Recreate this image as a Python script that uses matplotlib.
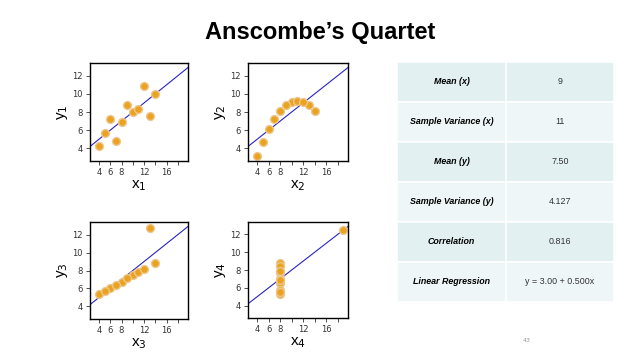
import numpy as np
import matplotlib.pyplot as plt
from matplotlib.patches import Rectangle

# Datos del cuarteto de Anscombe
x123 = [10, 8, 13, 9, 11, 14, 6, 4, 12, 7, 5]
x4 = [8, 8, 8, 8, 8, 8, 8, 19, 8, 8, 8]
y1 = [8.04, 6.95, 7.58, 8.81, 8.33, 9.96, 7.24, 4.26, 10.84, 4.82, 5.68]
y2 = [9.14, 8.14, 8.74, 8.77, 9.26, 8.10, 6.13, 3.10, 9.13, 7.26, 4.74]
y3 = [7.46, 6.77, 12.74, 7.11, 7.81, 8.84, 6.08, 5.39, 8.15, 6.42, 5.73]
y4 = [6.58, 5.76, 7.71, 8.84, 8.47, 7.04, 5.25, 12.50, 5.56, 7.91, 6.89]

intercepto = 3.0
pendiente = 0.5

etiquetas = ["Mean (x)", "Sample Variance (x)", "Mean (y)",
             "Sample Variance (y)", "Correlation", "Linear Regression"]
valores = ["9", "11", "7.50", "4.127", "0.816", "y = 3.00 + 0.500x"]

conjuntos = [(x123, y1), (x123, y2), (x123, y3), (x4, y4)]

W, H = 638, 359
fig = plt.figure(figsize=(W / 100, H / 100), dpi=100)
fig.text(320 / W, 1 - 33 / H, "Anscombe\u2019s Quartet", ha="center", va="center",
         fontsize=17, fontweight="bold", family="Liberation Sans")

# posiciones de los paneles en pixeles (izq, arriba, der, abajo)
cajas = [(90, 63, 188, 161), (248, 63, 348, 161),
         (90, 222, 188, 319), (248, 222, 348, 318)]

for i, ((xs, ys), (l, t, r, b)) in enumerate(zip(conjuntos, cajas)):
    ax = fig.add_axes([l / W, 1 - b / H, (r - l) / W, (b - t) / H])
    xl = np.array([2.4, 19.8])
    ax.plot(xl, intercepto + pendiente * xl, color="#2a22c8", lw=0.8, zorder=1)
    ax.scatter(xs, ys, s=32, color="#eba21e", edgecolors="#ecc890", linewidths=1.0, zorder=2)
    ax.set_xlim(2.4, 19.8)
    ax.set_ylim(2.6, 13.4)
    ax.set_xticks([4, 6, 8, 10, 12, 14, 16, 18])
    ax.set_xticklabels(["4", "6", "8", "", "12", "", "16", ""])
    ax.set_yticks([4, 6, 8, 10, 12])
    ax.tick_params(labelsize=6, length=3, width=0.6, colors="#333333", pad=2)
    for s in ax.spines.values():
        s.set_linewidth(1.0)
    ax.set_xlabel(f"x$_{i + 1}$", fontsize=11, labelpad=1, family="Liberation Sans")
    ax.set_ylabel(f"y$_{i + 1}$", fontsize=11, labelpad=2, family="Liberation Sans")

# Tabla de estadisticos
tx = fig.add_axes([0, 0, 1, 1])
tx.set_xlim(0, W)
tx.set_ylim(H, 0)
tx.axis("off")
izq, mid, der = 397, 506, 614
arriba, alto = 62, 40
colores = ["#e3f0f2", "#eff6f7"]
for k, (et, val) in enumerate(zip(etiquetas, valores)):
    y0 = arriba + k * alto
    tx.add_patch(Rectangle((izq, y0), der - izq, alto, facecolor=colores[k % 2],
                           edgecolor="white", lw=1.2))
    tx.plot([mid, mid], [y0, y0 + alto], color="white", lw=1.2)
    tx.text((izq + mid) / 2, y0 + alto / 2, et, ha="center", va="center",
            fontsize=6.4, fontstyle="italic", fontweight="bold", family="Liberation Sans")
    tx.text((mid + der) / 2, y0 + alto / 2, val, ha="center", va="center",
            fontsize=6.4, color="#333333", family="Liberation Sans")

fig.text(527 / W, 1 - 341 / H, "43", ha="center", va="center", fontsize=4.5, color="#999999")

fig.savefig("out.png", dpi=100, facecolor="white")
